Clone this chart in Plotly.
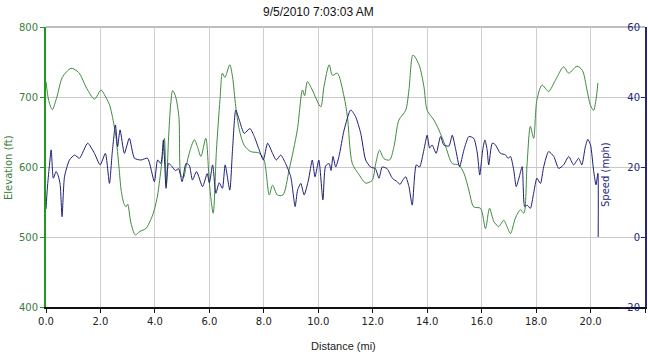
import plotly.graph_objects as go

title_text = "9/5/2010 7:03:03 AM"

elev_dist = [0.0, 0.1, 0.23, 0.4, 0.6, 0.92, 1.2, 1.5, 1.78, 2.02, 2.15, 2.33, 2.5, 2.57, 2.68, 2.76, 2.86, 2.94, 3.0, 3.12,
             3.28, 3.45, 3.67, 3.85, 3.98, 4.1, 4.16, 4.28, 4.35, 4.42, 4.5, 4.58, 4.65, 4.75, 4.88, 4.96, 5.05, 5.14, 5.3, 5.45,
             5.57, 5.69, 5.87, 6.0, 6.14, 6.26, 6.39, 6.48, 6.57, 6.75, 6.85, 6.97, 7.1, 7.28, 7.52, 7.83, 8.01, 8.2, 8.32, 8.5,
             8.7, 8.93, 9.23, 9.42, 9.5, 9.6, 9.78, 10.09, 10.21, 10.4, 10.52, 10.7, 10.95, 11.07, 11.25, 11.5, 11.74, 11.98, 12.11, 12.25,
             12.41, 12.62, 12.78, 12.96, 13.21, 13.33, 13.48, 13.7, 13.88, 14.0, 14.25, 14.43, 14.68, 14.92, 15.16, 15.35, 15.53, 15.71, 15.96, 16.14,
             16.29, 16.45, 16.63, 16.81, 16.93, 17.06, 17.24, 17.43, 17.55, 17.67, 17.79, 17.91, 18.03, 18.22, 18.46, 18.71, 19.01, 19.2, 19.5, 19.7,
             19.87, 19.99, 20.11, 20.2, 20.27]
elevation_ft = [722, 695, 682, 700, 728, 741, 735, 712, 697, 710, 703, 689, 660, 643, 600, 567, 548, 543, 547, 520,
                503, 508, 512, 525, 539, 560, 577, 615, 641, 575, 640, 690, 709, 702, 672, 588, 585, 600, 625, 639,
                628, 615, 641, 577, 534, 624, 696, 734, 728, 746, 729, 686, 653, 631, 622, 620, 610, 560, 574, 560,
                560, 596, 653, 710, 702, 722, 710, 686, 715, 746, 731, 734, 700, 672, 605, 589, 577, 581, 605, 624,
                612, 610, 629, 667, 681, 710, 760, 746, 715, 681, 667, 653, 629, 605, 603, 591, 567, 543, 541, 512,
                541, 522, 515, 524, 515, 505, 527, 539, 534, 605, 658, 641, 696, 717, 708, 724, 743, 734, 744, 738,
                710, 689, 681, 696, 720]

speed_dist = [0.0, 0.05, 0.12, 0.19, 0.27, 0.37, 0.45, 0.52, 0.59, 0.68, 0.86, 1.05, 1.23, 1.53, 1.78, 1.99, 2.18, 2.33, 2.43, 2.55,
              2.63, 2.72, 2.88, 3.06, 3.25, 3.49, 3.73, 3.98, 4.1, 4.22, 4.31, 4.41, 4.5, 4.6, 4.75, 4.87, 5.0, 5.14, 5.26, 5.38,
              5.53, 5.75, 5.92, 6.0, 6.12, 6.24, 6.36, 6.48, 6.58, 6.75, 6.85, 6.97, 7.1, 7.28, 7.49, 7.65, 7.83, 7.98, 8.14, 8.32,
              8.46, 8.62, 8.8, 8.99, 9.15, 9.24, 9.36, 9.48, 9.64, 9.78, 9.88, 10.02, 10.17, 10.27, 10.4, 10.47, 10.54, 10.64, 10.76, 10.95,
              11.19, 11.37, 11.56, 11.74, 11.92, 12.1, 12.23, 12.35, 12.53, 12.72, 12.9, 13.0, 13.1, 13.21, 13.33, 13.45, 13.6, 13.72, 13.88, 14.0,
              14.09, 14.18, 14.33, 14.49, 14.61, 14.8, 14.92, 15.05, 15.19, 15.35, 15.53, 15.71, 15.84, 15.93, 16.04, 16.12, 16.2, 16.26, 16.39, 16.5,
              16.69, 16.87, 16.97, 17.06, 17.18, 17.27, 17.37, 17.49, 17.58, 17.67, 17.79, 17.91, 18.03, 18.16, 18.28, 18.46, 18.65, 18.83, 19.01, 19.2,
              19.38, 19.56, 19.68, 19.81, 19.9, 20.0, 20.11, 20.2, 20.27, 20.28]
speed_mph = [8, 14, 20, 24.9, 16.8, 18.7, 17.5, 15, 5.8, 17.2, 22, 23.4, 22.5, 26.8, 23.9, 20.6, 23.9, 15.3, 23.9, 32,
             25.8, 30.6, 23.9, 28.2, 22.5, 22, 22.5, 15.8, 22, 21, 27.7, 13.9, 21, 20.4, 19, 19.5, 15.8, 21, 20.5, 16.3,
             18.7, 14.4, 18.1, 15.5, 20.6, 12.5, 15.5, 13.9, 20.6, 13.4, 24.9, 36.3, 33.4, 29.6, 31, 28.7, 24.9, 22, 26.8, 23.9,
             22, 23.4, 21, 17.2, 8.7, 13.4, 15.3, 12, 16.3, 22, 17.2, 22, 10.6, 20.3, 21, 19, 23, 20, 23, 30.6,
             36.3, 34.4, 29.6, 22, 20, 19.5, 16.8, 20, 19.5, 16.8, 15.8, 15, 16.2, 17.2, 14.4, 9.1, 20.6, 20, 24.9, 29.1,
             25.4, 26.3, 23.9, 28.7, 26.3, 26, 29.1, 24.9, 20.1, 24.9, 28.7, 28.2, 24, 17.7, 24.9, 27.7, 25, 20.6, 26.8, 26.4,
             23.9, 23.5, 22.5, 23, 19.1, 14.4, 16.8, 20.1, 8.7, 9.1, 8.2, 12.5, 16.8, 15.3, 20.1, 24.4, 23, 19.6, 20.6, 23,
             20.6, 22.5, 20.6, 25.8, 27.9, 26.3, 19.1, 14.9, 18.2, 0]

x_ticks = [0, 2, 4, 6, 8, 10, 12, 14, 16, 18, 20, 22]
elev_ticks = [400, 500, 600, 700, 800]
speed_ticks = [-20, 0, 20, 40, 60]

GREEN_LINE = "#3f8a3f"
GREEN_AXIS = "#1f9a1f"
GREEN_TEXT = "#3c7d3c"
BLUE_LINE = "#1e1e78"
BLUE_AXIS = "#25257a"

L, R, T, B = 46, 645, 27, 307
W, H = 648, 357
PW, PH = R - L, B - T

def px_x(px):
    return (px - L) / PW

def px_y(py):
    return (B - py) / PH

fig = go.Figure()
fig.add_trace(go.Scatter(x=elev_dist, y=elevation_ft, mode="lines", name="Elevation",
                         line=dict(color=GREEN_LINE, width=1, shape="spline", smoothing=0.8)))
fig.add_trace(go.Scatter(x=speed_dist, y=speed_mph, mode="lines", name="Speed", yaxis="y2",
                         line=dict(color=BLUE_LINE, width=1, shape="spline", smoothing=0.6)))

fig.update_layout(
    width=W, height=H,
    margin=dict(l=L, r=W - R, t=T, b=H - B, autoexpand=False),
    paper_bgcolor="white", plot_bgcolor="white",
    showlegend=False,
    font=dict(family="Liberation Sans, Arial, sans-serif", size=10, color="#222"),
    xaxis=dict(range=[0, 22], tickvals=x_ticks, tickformat=".1f", showgrid=True, gridcolor="#cfcfcf", gridwidth=1,
               showline=True, linecolor="#111", linewidth=2, ticks="outside", ticklen=4, tickcolor="#111",
               zeroline=False, automargin=False, tickfont=dict(family="DejaVu Sans", size=10, color="#222")),
    yaxis=dict(range=[400, 800], tickvals=elev_ticks, showgrid=True, gridcolor="#c8c8c8", gridwidth=1,
               showline=True, linecolor=GREEN_AXIS, linewidth=2, ticks="outside", ticklen=4, tickcolor=GREEN_AXIS,
               zeroline=False, automargin=False, tickfont=dict(family="DejaVu Sans", size=10, color=GREEN_TEXT)),
    yaxis2=dict(range=[-20, 60], tickvals=speed_ticks, overlaying="y", side="right", showgrid=False,
                showline=True, linecolor=BLUE_AXIS, linewidth=2, ticks="inside", ticklen=4, tickcolor=BLUE_AXIS,
                ticklabelposition="inside", ticklabeloverflow="allow", zeroline=False, automargin=False,
                tickfont=dict(family="DejaVu Sans", size=10, color=BLUE_AXIS)),
    annotations=[
        dict(text=title_text, xref="paper", yref="paper", x=px_x(318), y=px_y(12), showarrow=False,
             xanchor="center", yanchor="middle",
             font=dict(family="Liberation Sans, Arial, sans-serif", size=12, color="#111")),
        dict(text="Distance (mi)", xref="paper", yref="paper", x=px_x(343), y=px_y(346), showarrow=False,
             xanchor="center", yanchor="middle",
             font=dict(family="Liberation Sans, Arial, sans-serif", size=11, color="#222")),
        dict(text="Elevation (ft)", textangle=-90, xref="paper", yref="paper", x=px_x(8), y=px_y(168),
             showarrow=False, xanchor="center", yanchor="middle",
             font=dict(family="DejaVu Sans", size=10, color=GREEN_TEXT)),
        dict(text="Speed (mph)", textangle=-90, xref="paper", yref="paper", x=px_x(605), y=px_y(175),
             showarrow=False, xanchor="center", yanchor="middle",
             font=dict(family="DejaVu Sans", size=10, color=BLUE_AXIS)),
    ],
    shapes=[dict(type="line", xref="paper", yref="paper", x0=0, x1=1, y0=1, y1=1,
                 line=dict(color="#bdbdbd", width=2), layer="below")],
)

fig.write_html("out.html", config={"displayModeBar": False},
               post_script="document.body.style.margin='0';document.body.style.padding='0';")
